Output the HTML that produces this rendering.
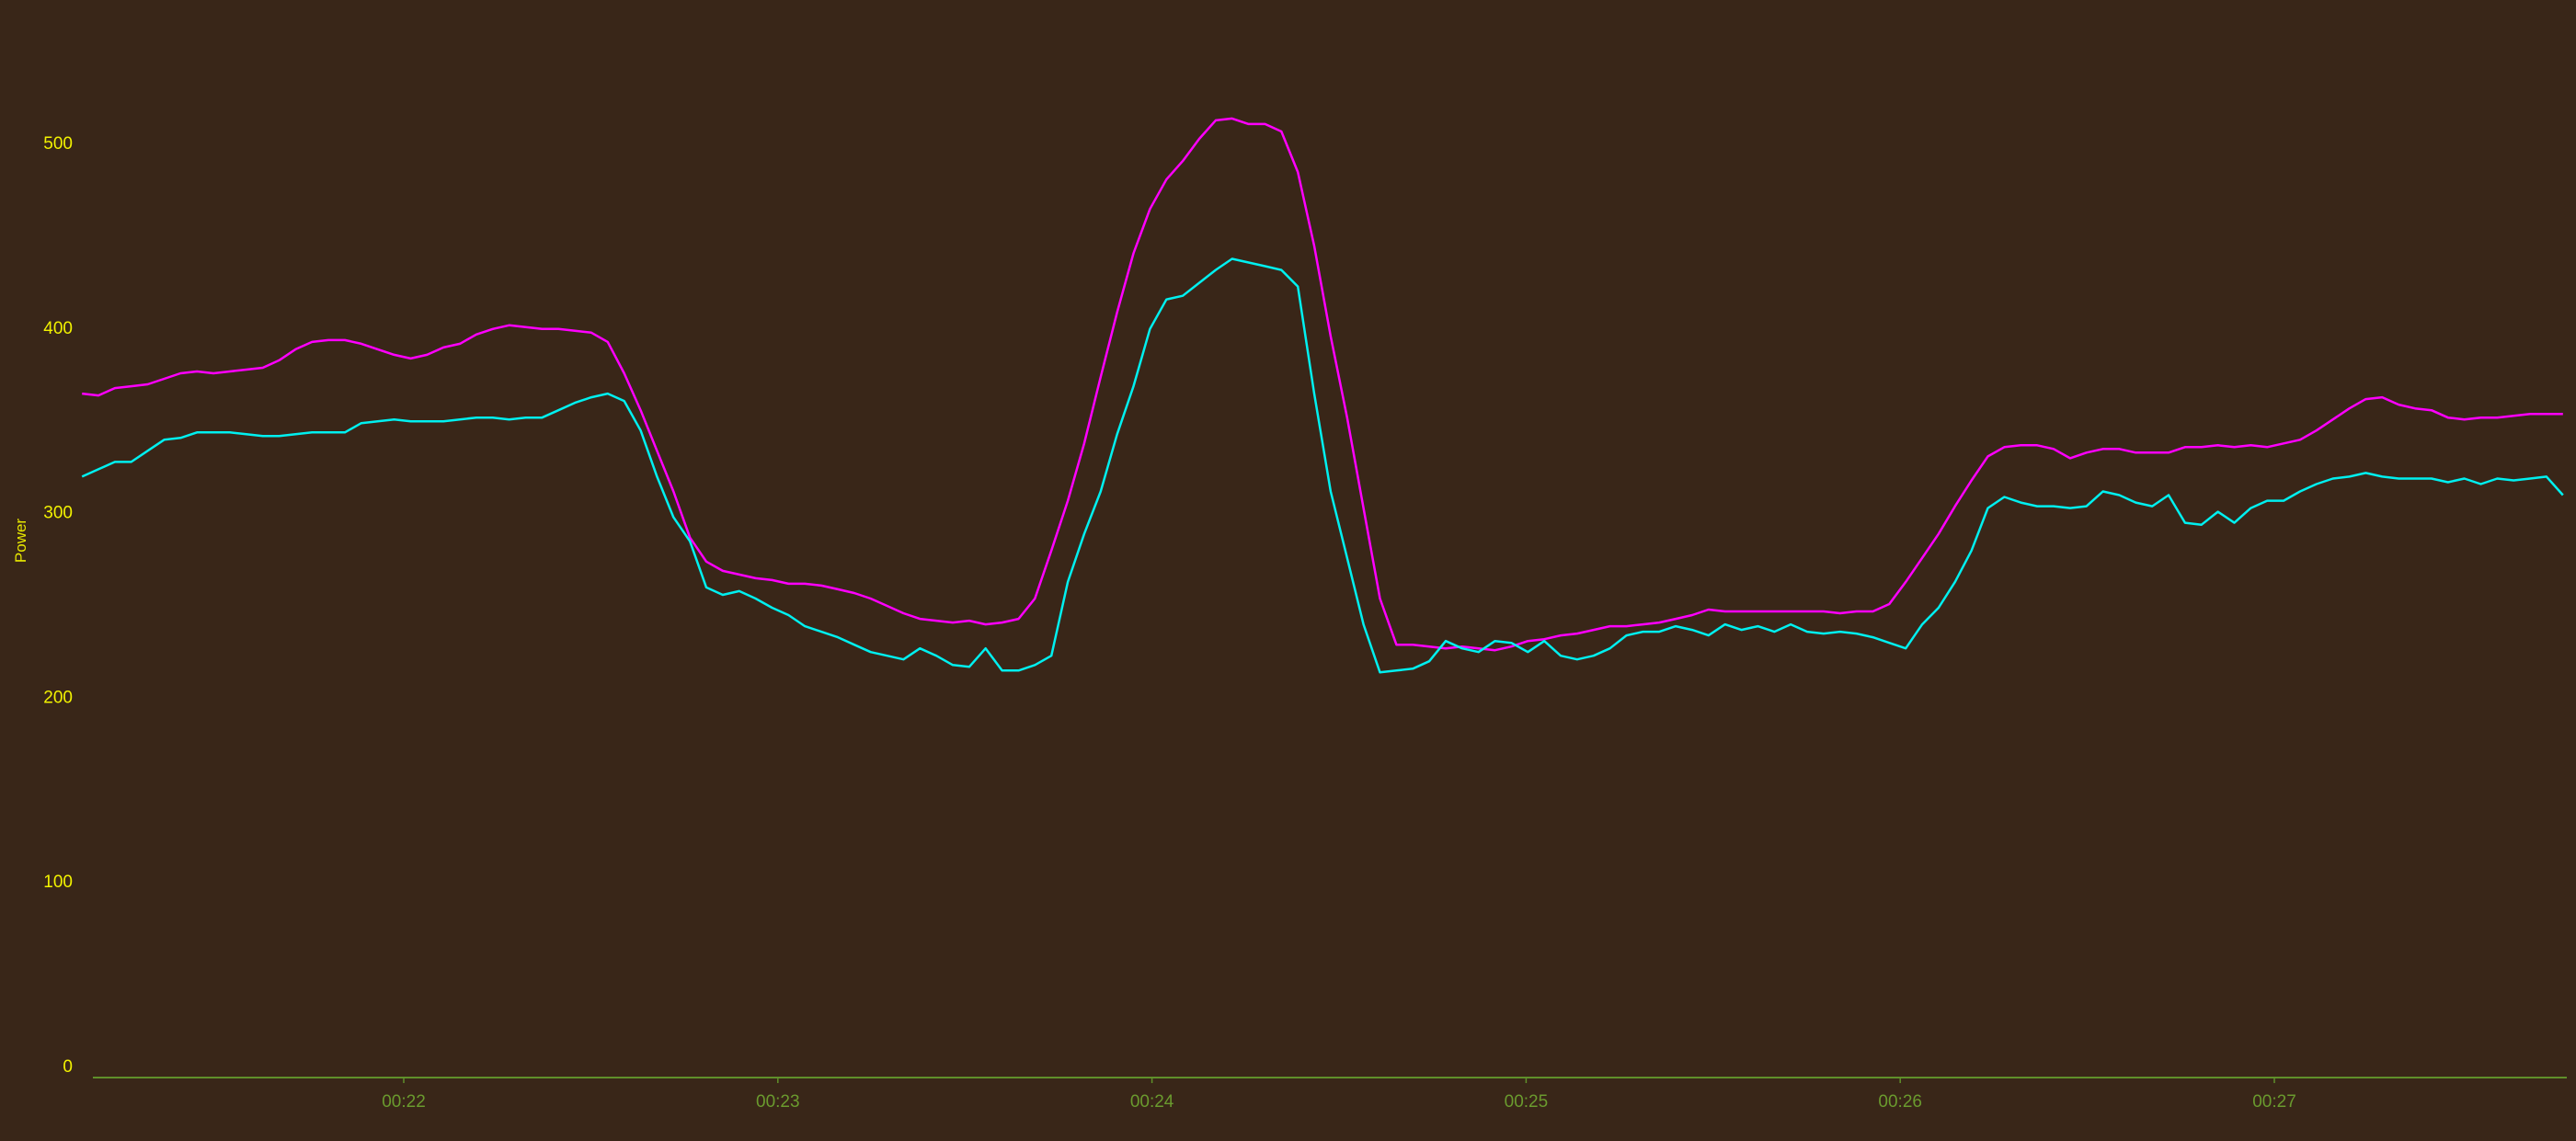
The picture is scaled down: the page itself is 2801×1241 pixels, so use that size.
<!DOCTYPE html>
<html><head><meta charset="utf-8"><style>
html,body{margin:0;padding:0;background:#392618;}
svg{display:block;}
</style></head><body>
<svg id="chart" width="2801" height="1241" viewBox="0 0 2801 1241" xmlns="http://www.w3.org/2000/svg">
<rect x="0" y="0" width="2801" height="1241" fill="#392618"/>
<g id="yaxis"></g>
<g id="xaxis"></g>
<text transform="translate(28,588) rotate(-90)" text-anchor="middle" fill="#e8e800" font-family="Liberation Sans, sans-serif" font-size="17">Power</text>
<g id="series"></g>
</svg>
<script>
const yTicks = [0, 100, 200, 300, 400, 500];
const xTickMinutes = [22, 23, 24, 25, 26, 27];
const xTickLabels = ["00:22", "00:23", "00:24", "00:25", "00:26", "00:27"];
const startSec = 1268.4;
const stepSec = 2.635;
const magentaValues = [364,363,367,368,369,372,375,376,375,376,377,378,382,388,392,393,393,391,388,385,383,385,389,391,396,399,401,400,399,399,398,397,392,375,355,333,311,286,273,268,266,264,263,261,261,260,258,256,253,249,245,242,241,240,241,239,240,242,253,279,306,337,373,408,440,464,480,490,502,512,513,510,510,506,484,444,395,351,302,253,228,228,227,226,227,226,225,227,230,231,233,234,236,238,238,239,240,242,244,247,246,246,246,246,246,246,246,245,246,246,250,262,275,288,303,317,330,335,336,336,334,329,332,334,334,332,332,332,335,335,336,335,336,335,337,339,344,350,356,361,362,358,356,355,351,350,351,351,352,353,353,353];
const cyanValues = [319,323,327,327,333,339,340,343,343,343,342,341,341,342,343,343,343,348,349,350,349,349,349,350,351,351,350,351,351,355,359,362,364,360,344,319,297,284,259,255,257,253,248,244,238,235,232,228,224,222,220,226,222,217,216,226,214,214,217,222,262,288,311,342,368,399,415,417,424,431,437,435,433,431,422,364,311,275,239,213,214,215,219,230,226,224,230,229,224,230,222,220,222,226,233,235,235,238,236,233,239,236,238,235,239,235,234,235,234,232,229,226,239,248,262,279,302,308,305,303,303,302,303,311,309,305,303,309,294,293,300,294,302,306,306,311,315,318,319,321,319,318,318,318,316,318,315,318,317,318,319,309];

const NS = "http://www.w3.org/2000/svg";
const X0 = 439, PXMIN = 406.8, Y0 = 1159, PXUNIT = 2.008;
function xScale(sec){ return X0 + (sec - 1320) / 60 * PXMIN; }
function yScale(v){ return Y0 - v * PXUNIT; }

const yg = document.getElementById('yaxis');
yTicks.forEach(v => {
  const t = document.createElementNS(NS, 'text');
  
  
  t.setAttribute('x', 79); t.setAttribute('y', yScale(v) + 7);
  t.setAttribute('text-anchor', 'end'); t.setAttribute('fill', '#f2f200');
  t.setAttribute('font-family', 'Liberation Sans, sans-serif'); t.setAttribute('font-size', '19');
  t.textContent = v; yg.appendChild(t);
});

const xg = document.getElementById('xaxis');
const axis = document.createElementNS(NS, 'line');


axis.setAttribute('x1', 101); axis.setAttribute('x2', 2791);
axis.setAttribute('y1', 1172); axis.setAttribute('y2', 1172);
axis.setAttribute('stroke', '#5f8f2a'); axis.setAttribute('stroke-width', '2');
xg.appendChild(axis);
xTickMinutes.forEach((m, i) => {
  const x = xScale(m * 60);
  const tk = document.createElementNS(NS, 'line');
  
  
  tk.setAttribute('x1', x); tk.setAttribute('x2', x); tk.setAttribute('y1', 1172); tk.setAttribute('y2', 1178);
  tk.setAttribute('stroke', '#5f8f2a'); tk.setAttribute('stroke-width', '1.5');
  xg.appendChild(tk);
  const t = document.createElementNS(NS, 'text');
  
  
  t.setAttribute('x', x); t.setAttribute('y', 1204);
  t.setAttribute('text-anchor', 'middle'); t.setAttribute('fill', '#6a9a2e');
  t.setAttribute('font-family', 'Liberation Sans, sans-serif'); t.setAttribute('font-size', '19');
  t.textContent = xTickLabels[i]; xg.appendChild(t);
});

const sg = document.getElementById('series');
function drawLine(vals, color, name){
  const pts = vals.map((v, i) => xScale(startSec + i * stepSec).toFixed(1) + ',' + yScale(v).toFixed(1));
  const p = document.createElementNS(NS, 'polyline');
  
  
  p.setAttribute('points', pts.join(' '));
  p.setAttribute('fill', 'none'); p.setAttribute('stroke', color);
  p.setAttribute('stroke-width', '2.5'); p.setAttribute('stroke-linejoin', 'round');
  sg.appendChild(p);
}
drawLine(magentaValues, '#ff00ff', 'magenta-power-line');
drawLine(cyanValues, '#00f0f0', 'cyan-power-line');
</script>
</body></html>
